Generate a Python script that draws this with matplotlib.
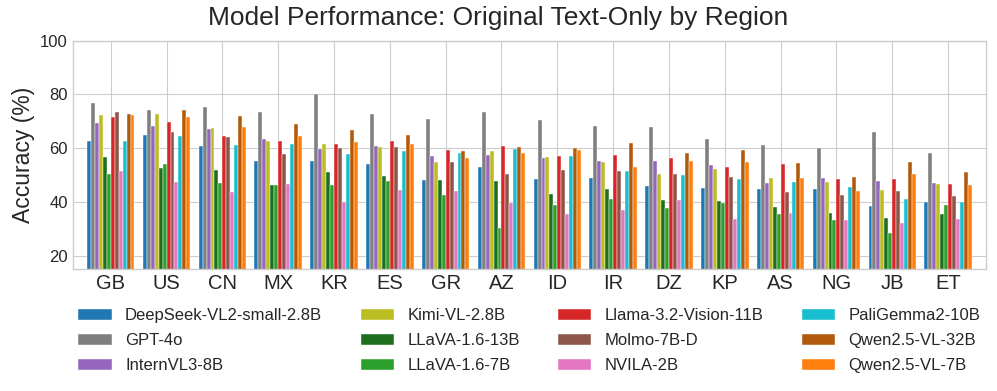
import numpy as np
import matplotlib
matplotlib.use("Agg")
import matplotlib.pyplot as plt

regions = ["GB", "US", "CN", "MX", "KR", "ES", "GR", "AZ",
           "ID", "IR", "DZ", "KP", "AS", "NG", "JB", "ET"]

models = ["DeepSeek-VL2-small-2.8B", "GPT-4o", "InternVL3-8B", "Kimi-VL-2.8B",
          "LLaVA-1.6-13B", "LLaVA-1.6-7B", "Llama-3.2-Vision-11B", "Molmo-7B-D",
          "NVILA-2B", "PaliGemma2-10B", "Qwen2.5-VL-32B", "Qwen2.5-VL-7B"]

colors = ["#1f77b4", "#7f7f7f", "#9467bd", "#bcbd22", "#1e6e1e", "#2ca02c",
          "#d62728", "#8c564b", "#e377c2", "#17becf", "#b25a0c", "#ff7f0e"]

# accuracy (%) per model, one value per region (order as in regions)
deepseek = [62.7, 65.0, 60.7, 55.2, 55.2, 54.0, 48.0, 53.0, 48.6, 49.0, 46.0, 45.3, 44.8, 44.6, 38.6, 40.0]
gpt4o    = [76.7, 74.1, 75.2, 73.4, 80.0, 72.7, 70.7, 73.6, 70.5, 68.4, 67.9, 63.4, 61.0, 60.0, 65.9, 58.1]
internvl = [69.5, 68.1, 67.1, 63.5, 59.6, 60.7, 57.0, 57.4, 56.3, 55.1, 55.1, 53.9, 47.2, 49.0, 47.9, 47.0]
kimi     = [72.2, 72.6, 67.4, 62.7, 61.7, 60.5, 54.8, 58.8, 56.7, 54.7, 50.5, 52.2, 48.9, 47.4, 44.4, 46.8]
llava13  = [56.6, 52.5, 51.7, 46.3, 51.0, 49.6, 48.0, 47.9, 43.1, 44.8, 40.8, 40.2, 38.0, 35.8, 34.0, 35.5]
llava7   = [50.3, 54.0, 46.9, 46.2, 46.4, 47.7, 42.6, 30.1, 38.7, 41.0, 37.7, 39.6, 35.6, 33.4, 28.5, 39.0]
llama    = [71.4, 69.6, 64.6, 62.7, 61.4, 62.7, 59.3, 60.8, 57.1, 57.4, 56.3, 52.9, 54.0, 48.5, 48.4, 46.5]
molmo    = [73.4, 66.1, 64.0, 57.7, 60.2, 60.3, 54.8, 50.4, 51.7, 51.5, 50.4, 49.4, 43.6, 42.6, 43.9, 42.2]
nvila    = [51.5, 47.3, 43.6, 46.7, 40.1, 44.4, 43.9, 39.6, 35.5, 37.0, 40.7, 33.8, 36.0, 33.4, 32.0, 33.5]
paligemma = [62.5, 64.5, 61.2, 61.7, 57.8, 59.1, 58.2, 59.6, 57.1, 51.4, 50.1, 48.6, 47.3, 45.7, 41.1, 40.1]
qwen32   = [72.8, 74.1, 72.1, 69.1, 66.7, 64.9, 58.8, 60.3, 60.0, 61.8, 58.2, 59.3, 54.5, 49.1, 55.0, 51.0]
qwen7    = [72.3, 71.6, 67.9, 64.5, 62.3, 61.7, 56.2, 58.2, 59.3, 53.1, 55.1, 55.0, 49.0, 44.1, 50.5, 46.3]

series = [deepseek, gpt4o, internvl, kimi, llava13, llava7,
          llama, molmo, nvila, paligemma, qwen32, qwen7]

plt.style.use("seaborn-v0_8-whitegrid")
plt.rcParams["font.family"] = ["Liberation Sans", "DejaVu Sans"]

fig = plt.figure(figsize=(9.97, 3.91), dpi=100)
ax = fig.add_axes([0.073, 0.312, 0.916, 0.584])

x = np.arange(len(regions))
n = len(models)
w = 0.85 / n
for i, (name, vals) in enumerate(zip(models, series)):
    ax.bar(x - 0.425 + w * (i + 0.5), vals, width=w, color=colors[i],
           label=name, edgecolor="white", linewidth=0.3)

ax.set_xticks(x)
ax.set_xticklabels(regions, fontsize=14.5)
ax.tick_params(axis="y", labelsize=12)
ax.set_ylim(15, 100)
ax.set_yticks([20, 40, 60, 80, 100])
ax.set_xlim(-0.68, len(regions) - 1 + 0.68)
ax.set_ylabel("Accuracy (%)", fontsize=16.5)
for s in ax.spines.values():
    s.set_visible(True)
    s.set_color("#cccccc")

fig.suptitle("Model Performance: Original Text-Only by Region", fontsize=19,
             x=0.5, y=0.985)

fig.legend(loc="upper center", bbox_to_anchor=(0.531, 0.25), ncol=4,
           frameon=False, fontsize=12, handlelength=2.0, columnspacing=2.3,
           labelspacing=0.6)

fig.savefig("out.png", dpi=100)
